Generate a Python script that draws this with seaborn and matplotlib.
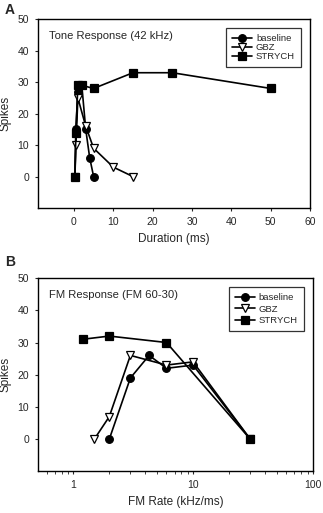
# Respuesta al tono y a barridos FM: baseline vs GBZ vs STRYCH
import pandas as pd
import matplotlib
matplotlib.use("Agg")
import matplotlib.pyplot as plt
import seaborn as sns

sns.set_style("ticks")
plt.rcParams["font.family"] = ["Liberation Sans", "DejaVu Sans"]

# ======================
# DATOS
# ======================
series = ["baseline", "GBZ", "STRYCH"]

# Panel A: duración del tono (ms)
dur_baseline = [0.25, 0.5, 1, 2, 3, 4, 5]
spk_baseline_a = [0, 15, 27, 29, 15, 6, 0]
dur_gbz = [0.25, 0.5, 1, 3, 5, 10, 15]
spk_gbz_a = [0, 10, 25, 16, 9, 3, 0]
dur_strych = [0.25, 0.5, 1, 2, 5, 15, 25, 50]
spk_strych_a = [0, 14, 29, 29, 28, 33, 33, 28]

# Panel B: tasa FM (kHz/ms)
fm_baseline = [2, 3, 4.3, 6, 10, 30]
spk_baseline_b = [0, 19, 26, 22, 23, 0]
fm_gbz = [1.5, 2, 3, 6, 10, 30]
spk_gbz_b = [0, 7, 26, 23, 24, 0]
fm_strych = [1.2, 2, 6, 30]
spk_strych_b = [31, 32, 30, 0]

estilos = {
    "baseline": dict(marker="o", markerfacecolor="black"),
    "GBZ": dict(marker="v", markerfacecolor="white"),
    "STRYCH": dict(marker="s", markerfacecolor="black"),
}


def tabla(xs, ys):
    filas = []
    for nombre, x, y in zip(series, xs, ys):
        for xi, yi in zip(x, y):
            filas.append({"serie": nombre, "x": xi, "y": yi})
    return pd.DataFrame(filas)


datos_a = tabla([dur_baseline, dur_gbz, dur_strych],
                [spk_baseline_a, spk_gbz_a, spk_strych_a])
datos_b = tabla([fm_baseline, fm_gbz, fm_strych],
                [spk_baseline_b, spk_gbz_b, spk_strych_b])

fig = plt.figure(figsize=(3.23, 5.13), dpi=100)
ax_a = fig.add_axes([0.118, 0.5945, 0.842, 0.368])
ax_b = fig.add_axes([0.118, 0.081, 0.851, 0.377])


def dibujar(ax, datos, espacio):
    for nombre in series:
        sub = datos[datos["serie"] == nombre]
        sns.lineplot(x="x", y="y", data=sub, ax=ax, color="black",
                     linewidth=1.2, markersize=5.5, markeredgecolor="black",
                     markeredgewidth=0.9, estimator=None, label=nombre,
                     **estilos[nombre])
    ax.set_ylim(-10, 50)
    ax.set_yticks([0, 10, 20, 30, 40, 50])
    ax.set_ylabel("Spikes", fontsize=8.5, labelpad=4)
    ax.tick_params(labelsize=7.5, length=2.5, width=0.8, pad=4)
    ax.tick_params(which="minor", length=1.8, width=0.6)
    for lado in ax.spines.values():
        lado.set_visible(True)
        lado.set_linewidth(1.0)
        lado.set_color("black")
    leg = ax.legend(loc="upper right", fontsize=6.8, frameon=True,
                    fancybox=False, edgecolor="black", handlelength=2.1,
                    borderpad=0.65, labelspacing=espacio, handletextpad=0.4,
                    borderaxespad=0.95)
    leg.get_frame().set_linewidth(0.9)


# Panel A
dibujar(ax_a, datos_a, 0.0)
ax_a.set_xlim(-9.1, 60)
ax_a.set_xticks([0, 10, 20, 30, 40, 50, 60])
ax_a.set_xlabel("Duration (ms)", fontsize=8.5, labelpad=4)
ax_a.text(0.04, 0.94, "Tone Response (42 kHz)", transform=ax_a.transAxes,
          fontsize=8.1, va="top")
fig.text(0.015, 0.995, "A", fontsize=10, fontweight="bold", va="top")

# Panel B
dibujar(ax_b, datos_b, 0.25)
ax_b.set_xscale("log")
ax_b.set_xlim(0.51, 100)
ax_b.set_xlabel("FM Rate (kHz/ms)", fontsize=8.5, labelpad=4)
ax_b.xaxis.set_major_formatter(matplotlib.ticker.FormatStrFormatter("%g"))
ax_b.text(0.04, 0.94, "FM Response (FM 60-30)", transform=ax_b.transAxes,
          fontsize=8.1, va="top")
fig.text(0.015, 0.503, "B", fontsize=10, fontweight="bold", va="top")

plt.savefig("out.png", dpi=100)
